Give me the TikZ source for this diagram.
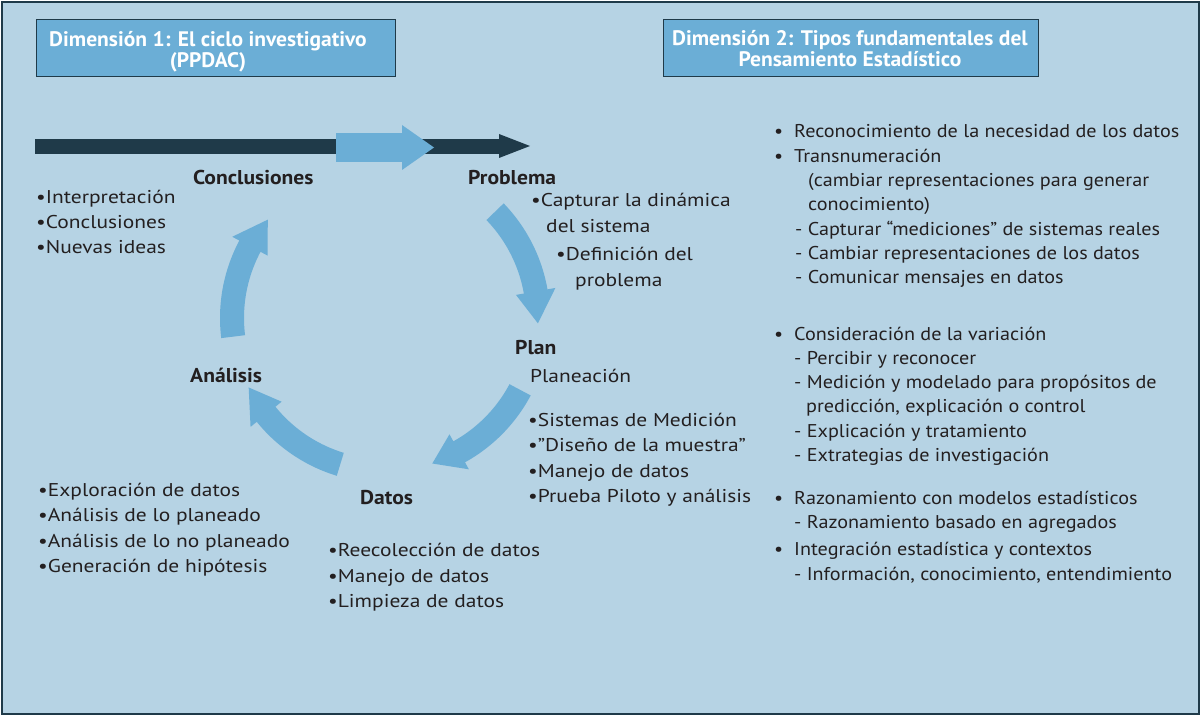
\documentclass[tikz,border=0pt]{standalone}
\usepackage{fontspec}
\setmainfont{PT Sans}
\newfontfamily\leftfont[FakeStretch=1.16]{PT Sans}
\newfontfamily\rightfont[FakeStretch=1.09]{PT Sans}
\newfontfamily\headfont[FakeStretch=1.08]{PT Sans}
\newfontfamily\titlefont[FakeStretch=1.025]{PT Sans}
\definecolor{bgc}{HTML}{B6D3E4}
\definecolor{lblue}{HTML}{6BAED6}
\definecolor{darkc}{HTML}{1F3A49}
\definecolor{textc}{HTML}{231F20}
\newcommand\cyclearr[3]{%
 \fill[lblue] plot[domain=#1:#3,samples=40] ({385+165*cos(\x)},{318-165*sin(\x)})
   -- ({385+173*cos(#3)},{318-173*sin(#3)})
   -- ({385+153*cos(#2)},{318-153*sin(#2)})
   -- ({385+133*cos(#3)},{318-133*sin(#3)})
   -- plot[domain=#3:#1,samples=40] ({385+141*cos(\x)},{318-141*sin(\x)}) -- cycle;}
\begin{document}
\begin{tikzpicture}[x=1pt,y=-1pt,
  txt/.style={anchor=base west, inner sep=0, text=textc, font=\leftfont\fontsize{18.5}{22}\selectfont},
  rtxt/.style={anchor=base west, inner sep=0, text=textc, font=\rightfont\fontsize{18.5}{22}\selectfont},
  head/.style={anchor=base west, inner sep=0, text=textc, font=\headfont\bfseries\fontsize{20}{22}\selectfont},
  hbox/.style={draw=darkc, line width=1pt, fill=lblue},
  htxt/.style={text=white, align=center, inner sep=0,
    font=\titlefont\bfseries\fontsize{21}{20.5}\selectfont}]
\useasboundingbox (0,0) rectangle (1203,719);
\fill[white] (0,0) rectangle (1203,719);
\draw[draw=darkc, fill=bgc, line width=2pt] (2,2) rectangle (1199,714);
% headers
\node[hbox, minimum width=359pt, minimum height=57pt] (h1) at (215.5,48.5) {};
\node[htxt, anchor=base] (h1t) at (208,47) {Dimensión 1: El ciclo investigativo};
\node[htxt, anchor=base] (h1u) at (208,67.5) {(PPDAC)};
\node[hbox, minimum width=375pt, minimum height=57pt] (h2) at (850.5,48.5) {};
\node[htxt, anchor=base] (h2t) at (850,45.5) {Dimensión 2: Tipos fundamentales del};
\node[htxt, anchor=base] (h2u) at (850,67) {Pensamiento Estadístico};
% timeline arrow
\fill[darkc] (35,139) rectangle (500,154);
\fill[darkc] (499,134) -- (530,146) -- (499,158) -- cycle;
\fill[lblue] (336,133) rectangle (403,162);
\fill[lblue] (402,125) -- (434,147.5) -- (402,170) -- cycle;
% cycle arrows
\cyclearr{44}{-2}{10}
\cyclearr{-28}{-72}{-61}
\cyclearr{-107}{-153}{-141}
\cyclearr{187}{140}{152}
% left part
\node[head] (conc) at (193,185) {Conclusiones};
\node[head] (prob) at (468,185) {Problema};
\node[head] (plan) at (515,355) {Plan};
\node[head] (anal) at (190,383) {Análisis};
\node[head] (datos) at (360,504) {Datos};
\node[txt] (c1) at (36,204) {•Interpretación};
\node[txt] (c2) at (36,229) {•Conclusiones};
\node[txt] (c3) at (36,254) {•Nuevas ideas};
\node[txt] (p1) at (531,207) {•Capturar la dinámica};
\node[txt] (p2) at (546,233) {del sistema};
\node[txt] (p3) at (556,261) {•Definición del};
\node[txt] (p4) at (575,287) {problema};
\node[txt] (pl0) at (530,383) {Planeación};
\node[txt] (pl1) at (528,427) {•Sistemas de Medición};
\node[txt] (pl2) at (528,451) {•”Diseño de la muestra”};
\node[txt] (pl3) at (528,477) {•Manejo de datos};
\node[txt] (pl4) at (528,502) {•Prueba Piloto y análisis};
\node[txt] (a1) at (38,496) {•Exploración de datos};
\node[txt] (a2) at (38,521) {•Análisis de lo planeado};
\node[txt] (a3) at (38,547) {•Análisis de lo no planeado};
\node[txt] (a4) at (38,572) {•Generación de hipótesis};
\node[txt] (d1) at (328,556) {•Reecolección de datos};
\node[txt] (d2) at (328,582) {•Manejo de datos};
\node[txt] (d3) at (328,607) {•Limpieza de datos};
% right column
\node[rtxt] (b1) at (774,138) {•};
\node[rtxt] (r1) at (794,138) {Reconocimiento de la necesidad de los datos};
\node[rtxt] (b2) at (774,163) {•};
\node[rtxt] (r2) at (794,163) {Transnumeración};
\node[rtxt] (r3) at (808,187) {(cambiar representaciones para generar};
\node[rtxt] (r4) at (808,211) {conocimiento)};
\node[rtxt] (r5) at (795,236) {- Capturar “mediciones” de sistemas reales};
\node[rtxt] (r6) at (795,260) {- Cambiar representaciones de los datos};
\node[rtxt] (r7) at (795,284) {- Comunicar mensajes en datos};
\node[rtxt] (b3) at (774,341) {•};
\node[rtxt] (r8) at (794,341) {Consideración de la variación};
\node[rtxt] (r9) at (794,365) {- Percibir y reconocer};
\node[rtxt] (r10) at (794,389) {- Medición y modelado para propósitos de};
\node[rtxt] (r11) at (806,413) {predicción, explicación o control};
\node[rtxt] (r12) at (794,437) {- Explicación y tratamiento};
\node[rtxt] (r13) at (794,461) {- Extrategias de investigación};
\node[rtxt] (b4) at (774,504) {•};
\node[rtxt] (r14) at (794,504) {Razonamiento con modelos estadísticos};
\node[rtxt] (r15) at (794,528) {- Razonamiento basado en agregados};
\node[rtxt] (b5) at (774,555) {•};
\node[rtxt] (r16) at (794,555) {Integración estadística y contextos};
\node[rtxt] (r17) at (794,580) {- Información, conocimiento, entendimiento};
\end{tikzpicture}
\end{document}
